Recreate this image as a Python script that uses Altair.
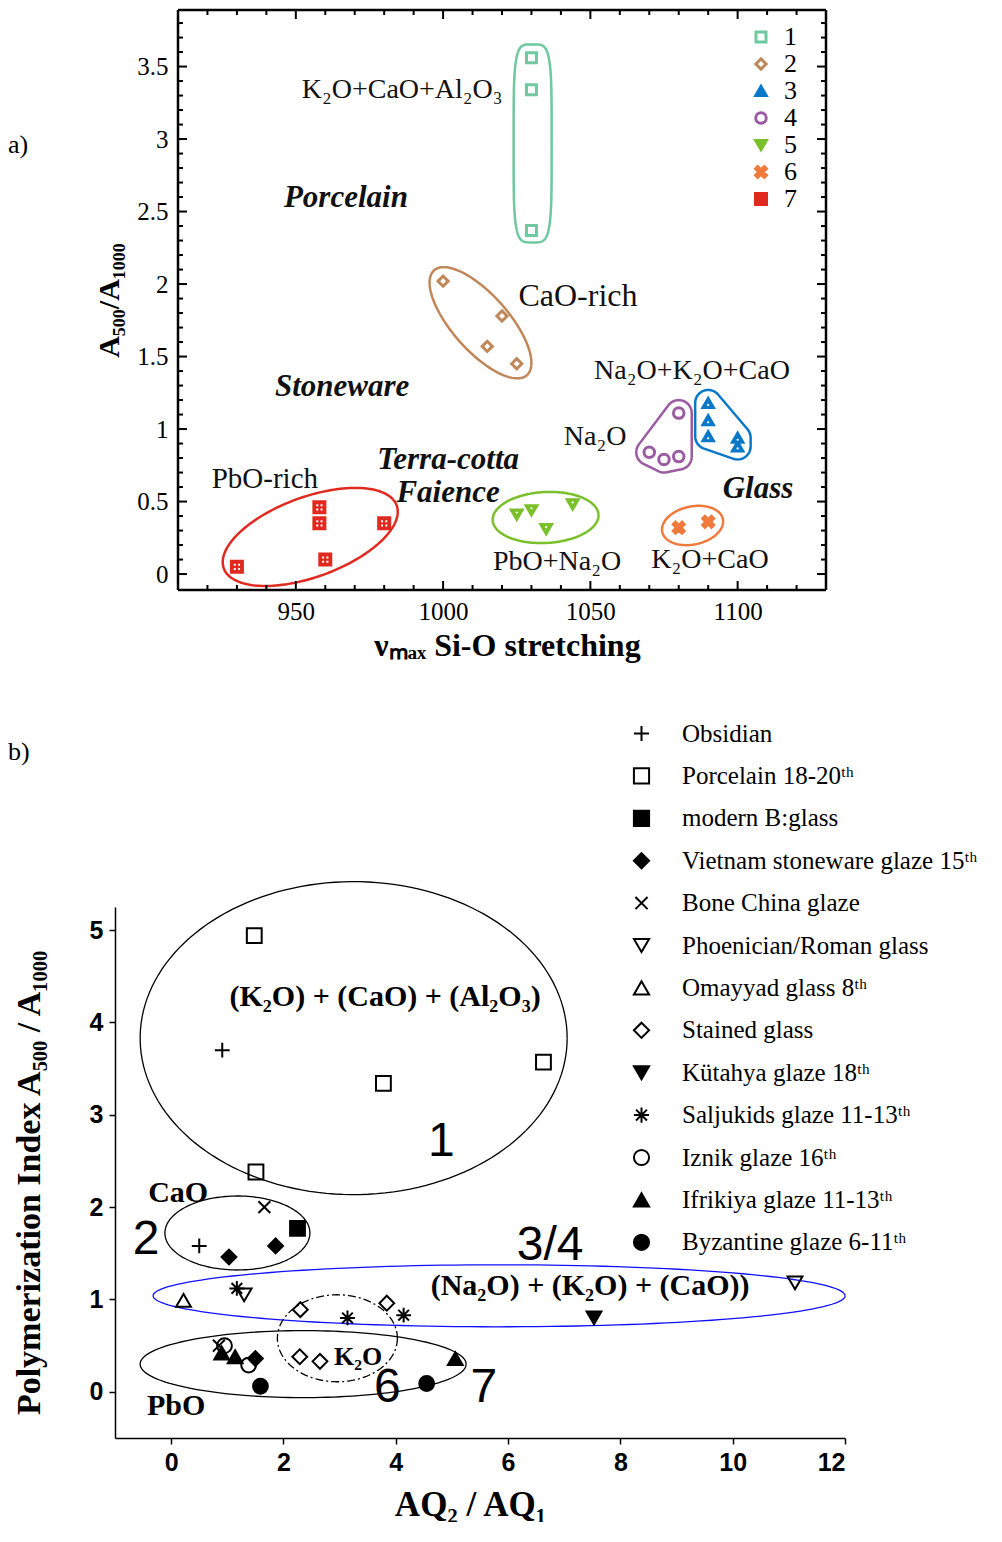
import altair as alt
import numpy as np
import pandas as pd

# ---------------- Panel a data ----------------
a_group = ["1", "1", "1",
           "2", "2", "2", "2",
           "3", "3", "3", "3", "3",
           "4", "4", "4", "4",
           "5", "5", "5", "5",
           "6", "6",
           "7", "7", "7", "7", "7"]
a_x = [1030, 1030, 1030,
       1000, 1020, 1015, 1025,
       1090, 1090, 1090, 1100, 1100,
       1080, 1070, 1075, 1080,
       1025, 1030, 1035, 1044,
       1080, 1090,
       930, 958, 958, 960, 980]
a_y = [3.56, 3.34, 2.37,
       2.02, 1.78, 1.57, 1.45,
       1.18, 1.06, 0.95, 0.94, 0.88,
       1.11, 0.84, 0.79, 0.81,
       0.41, 0.44, 0.31, 0.48,
       0.32, 0.36,
       0.05, 0.46, 0.35, 0.10, 0.35]
a_legend = ["1", "2", "3", "4", "5", "6", "7"]
a_colors = ["#6ec8a0", "#c0875a", "#0a78c8", "#9b5ba0", "#7ac02a", "#f07a3c", "#e02a20"]

a_x_ticks = [950, 1000, 1050, 1100]
a_y_ticks = [0, 0.5, 1, 1.5, 2, 2.5, 3, 3.5]

# ---------------- Panel b data ----------------
b_series = ["Obsidian", "Porcelain 18-20ᵗʰ", "modern B:glass",
            "Vietnam stoneware glaze 15ᵗʰ", "Bone China glaze",
            "Phoenician/Roman glass", "Omayyad glass 8ᵗʰ", "Stained glass",
            "Kütahya glaze 18ᵗʰ", "Saljukids glaze 11-13ᵗʰ", "Iznik glaze 16ᵗʰ",
            "Ifrikiya glaze 11-13ᵗʰ", "Byzantine glaze  6-11ᵗʰ"]
b_idx = [0, 0,
         1, 1, 1, 1,
         2,
         3, 3, 3,
         4, 4,
         5, 5,
         6,
         7, 7, 7, 7,
         8,
         9, 9, 9,
         10, 10,
         11, 11, 11,
         12, 12]
b_x = [0.91, 0.50,
       1.48, 3.78, 6.63, 1.51,
       2.25,
       1.03, 1.86, 1.50,
       1.66, 0.85,
       1.30, 11.11,
       0.22,
       2.30, 3.84, 2.29, 2.65,
       7.53,
       1.17, 3.14, 4.14,
       1.38, 0.95,
       0.90, 1.14, 5.06,
       1.59, 4.55]
b_y = [3.70, 1.58,
       4.94, 3.34, 3.57, 2.38,
       1.77,
       1.46, 1.58, 0.36,
       2.00, 0.50,
       1.05, 1.18,
       0.99,
       0.89, 0.96, 0.38, 0.33,
       0.80,
       1.12, 0.80, 0.83,
       0.29, 0.50,
       0.42, 0.38, 0.36,
       0.06, 0.09]
b_x_ticks = [0, 2, 4, 6, 8, 10, 12]
b_y_ticks = [0, 1, 2, 3, 4, 5]

# ---------------- geometry / layout ----------------
X0_A = 63                      # left inset of panel a's box inside its group
W_A, H_A = 648, 580            # panel a box
GW_A = X0_A + W_A              # panel a group width
XA, YA = [910, 1130], [-0.11, 3.89]
KXA, KYA = W_A / (XA[1] - XA[0]), H_A / (YA[1] - YA[0])
W_B, H_B = 730, 531
XB, YB = [-1, 12], [-0.5, 5.25]
KXB, KYB = W_B / (XB[1] - XB[0]), H_B / (YB[1] - YB[0])
LEFT_LAB = -107

SERIF = "Liberation Serif"
SANS = "Liberation Sans"


def ellipse(cx, cy, a_px, b_px, ang, kx, ky, n=2.0, npts=160):
    t = np.linspace(0, 2 * np.pi, npts)
    c, s = np.cos(t), np.sin(t)
    ex = a_px * np.sign(c) * np.abs(c) ** (2 / n)
    ey = b_px * np.sign(s) * np.abs(s) ** (2 / n)
    th = np.radians(ang)
    px = ex * np.cos(th) - ey * np.sin(th)
    py = ex * np.sin(th) + ey * np.cos(th)
    return cx + px / kx, cy - py / ky


def rounded_hull(xs, ys, r, kx, ky):
    pts = []
    for x, y in zip(xs, ys):
        for t in np.linspace(0, 2 * np.pi, 60, endpoint=False):
            pts.append((x * kx + r * np.cos(t), -y * ky + r * np.sin(t)))
    pts = sorted(set(pts))

    def cross(o, a, b):
        return (a[0] - o[0]) * (b[1] - o[1]) - (a[1] - o[1]) * (b[0] - o[0])
    lower, upper = [], []
    for p in pts:
        while len(lower) >= 2 and cross(lower[-2], lower[-1], p) <= 0:
            lower.pop()
        lower.append(p)
    for p in reversed(pts):
        while len(upper) >= 2 and cross(upper[-2], upper[-1], p) <= 0:
            upper.pop()
        upper.append(p)
    hull = lower[:-1] + upper[:-1]
    hull.append(hull[0])
    hx = np.array([p[0] for p in hull]) / kx
    hy = -np.array([p[1] for p in hull]) / ky
    return hx, hy


def outline_df(xs, ys, oid, color):
    return pd.DataFrame({"x": xs, "y": ys, "i": np.arange(len(xs)), "oid": oid, "col": color})


ONE = pd.DataFrame({"k": [0]})

# ---------------- Panel a ----------------
df_a = pd.DataFrame({"x": a_x, "y": a_y, "group": a_group})

out_parts = []
gx = lambda g: [x for x, gg in zip(a_x, a_group) if gg == g]
gy = lambda g: [y for y, gg in zip(a_y, a_group) if gg == g]
ex, ey = ellipse(1030.4, 2.97, 19, 99, 0, KXA, KYA, n=4.5)
out_parts.append(outline_df(ex, ey, "1", a_colors[0]))
ex, ey = ellipse(1012.7, 1.733, 70, 28, 48.5, KXA, KYA)
out_parts.append(outline_df(ex, ey, "2", a_colors[1]))
ex, ey = rounded_hull(gx("3"), gy("3"), 13, KXA, KYA)
out_parts.append(outline_df(ex, ey, "3", a_colors[2]))
ex, ey = rounded_hull(gx("4"), gy("4"), 13, KXA, KYA)
out_parts.append(outline_df(ex, ey, "4", a_colors[3]))
ex, ey = ellipse(1034.8, 0.39, 53, 25.5, -3, KXA, KYA)
out_parts.append(outline_df(ex, ey, "5", a_colors[4]))
ex, ey = ellipse(1084.7, 0.335, 31, 19, -12, KXA, KYA)
out_parts.append(outline_df(ex, ey, "6", a_colors[5]))
ex, ey = ellipse(954.9, 0.256, 92, 40, -20, KXA, KYA)
out_parts.append(outline_df(ex, ey, "7", a_colors[6]))
df_out_a = pd.concat(out_parts, ignore_index=True)

AXA_X = alt.Axis(values=a_x_ticks, format="d", title="νₘₐₓ Si-O stretching",
                 tickSize=0, domain=False, grid=False,
                 labelFont=SERIF, labelFontSize=25, labelColor="black", labelPadding=9,
                 titleFont=SERIF, titleFontSize=32, titleFontWeight="bold",
                 titleColor="black", titlePadding=6, titleX=X0_A + W_A / 2 + 5)
AXA_Y = alt.Axis(values=a_y_ticks, format="~g", title="A₅₀₀/A₁₀₀₀",
                 tickSize=0, domain=False, grid=False, offset=-X0_A,
                 labelFont=SERIF, labelFontSize=25, labelColor="black", labelPadding=10,
                 titleFont=SERIF, titleFontSize=30, titleFontWeight="bold",
                 titleColor="black", titlePadding=12)
SXA = alt.Scale(domain=XA, range=[X0_A, GW_A], nice=False, zero=False)
SYA = alt.Scale(domain=YA, nice=False, zero=False)
XA_ENC = alt.X("x:Q", scale=SXA, axis=AXA_X)
YA_ENC = alt.Y("y:Q", scale=SYA, axis=AXA_Y)

outlines_a = alt.Chart(df_out_a).mark_line(strokeWidth=2.5).encode(
    x=XA_ENC, y=YA_ENC, detail="oid:N", order="i:Q",
    stroke=alt.Stroke("col:N", scale=None))

leg_a = alt.Legend(orient="none", legendX=633, legendY=14, title=None,
                   labelFont=SERIF, labelFontSize=26, labelColor="black",
                   labelOffset=10, rowPadding=1, symbolSize=120,
                   symbolStrokeWidth=3, padding=0)
shape_a = ["square", "diamond", "triangle-up", "circle", "triangle-down",
           "M-1,-0.6L-0.6,-1L0,-0.4L0.6,-1L1,-0.6L0.4,0L1,0.6L0.6,1L0,0.4L-0.6,1L-1,0.6L-0.4,0Z",
           "square"]
fill_a = ["white", "white", a_colors[2], "white", a_colors[4], a_colors[5], a_colors[6]]
size_a = [100, 121, 150, 100, 150, 125, 130]

points_a = alt.Chart(df_a).mark_point(strokeWidth=3, opacity=1).encode(
    x=XA_ENC, y=YA_ENC,
    shape=alt.Shape("group:N", scale=alt.Scale(domain=a_legend, range=shape_a), legend=leg_a),
    fill=alt.Fill("group:N", scale=alt.Scale(domain=a_legend, range=fill_a), legend=leg_a),
    stroke=alt.Stroke("group:N", scale=alt.Scale(domain=a_legend, range=a_colors), legend=leg_a),
    size=alt.Size("group:N", scale=alt.Scale(domain=a_legend, range=size_a), legend=None),
)

df_a3 = df_a[df_a.group.isin(["3"])]
df_a5 = df_a[df_a.group.isin(["5"])]
df_a7 = df_a[df_a.group.isin(["7"])]
dot3 = alt.Chart(df_a3).mark_point(shape="circle", size=5, filled=True, color="white",
                                   opacity=1, yOffset=2).encode(x=XA_ENC, y=YA_ENC)
dot5 = alt.Chart(df_a5).mark_point(shape="circle", size=5, filled=True, color="white",
                                   opacity=1, yOffset=-2).encode(x=XA_ENC, y=YA_ENC)
dot7 = alt.Chart(df_a7).mark_point(
    shape="M-0.55,-0.55h0.35v0.35h-0.35z M0.2,-0.55h0.35v0.35h-0.35z M-0.55,0.2h0.35v0.35h-0.35z M0.2,0.2h0.35v0.35h-0.35z",
    size=130, filled=True, color="white", opacity=1).encode(x=XA_ENC, y=YA_ENC)

# box frame of panel a
frame_a = [
    alt.Chart(ONE).mark_rule(strokeWidth=2.5, color="black").encode(
        x=alt.value(X0_A), x2=alt.value(GW_A), y=alt.value(0)),
    alt.Chart(ONE).mark_rule(strokeWidth=2.5, color="black").encode(
        x=alt.value(X0_A), x2=alt.value(GW_A), y=alt.value(H_A)),
    alt.Chart(ONE).mark_rule(strokeWidth=2.5, color="black").encode(
        x=alt.value(X0_A), y=alt.value(0), y2=alt.value(H_A)),
    alt.Chart(ONE).mark_rule(strokeWidth=2.5, color="black").encode(
        x=alt.value(GW_A), y=alt.value(0), y2=alt.value(H_A)),
]

# inward ticks for the boxed frame of panel a
x_minor = [v for v in range(920, 1130, 10) if v % 50]
y_minor = [round(v * 0.1, 1) for v in range(0, 39) if v % 5]
df_xmaj = pd.DataFrame({"x": a_x_ticks})
df_xmin = pd.DataFrame({"x": x_minor})
df_ymaj = pd.DataFrame({"y": a_y_ticks})
df_ymin = pd.DataFrame({"y": y_minor})
tick_layers = []
for dfx, ln in [(df_xmaj, 9), (df_xmin, 5)]:
    tick_layers.append(alt.Chart(dfx).mark_rule(strokeWidth=2, color="black").encode(
        x=XA_ENC, y=alt.value(H_A), y2=alt.value(H_A - ln)))
    tick_layers.append(alt.Chart(dfx).mark_rule(strokeWidth=2, color="black").encode(
        x=XA_ENC, y=alt.value(0), y2=alt.value(ln)))
for dfy, ln in [(df_ymaj, 9), (df_ymin, 5)]:
    tick_layers.append(alt.Chart(dfy).mark_rule(strokeWidth=2, color="black").encode(
        y=YA_ENC, x=alt.value(X0_A), x2=alt.value(X0_A + ln)))
    tick_layers.append(alt.Chart(dfy).mark_rule(strokeWidth=2, color="black").encode(
        y=YA_ENC, x=alt.value(GW_A), x2=alt.value(GW_A - ln)))

ann_a_plain = pd.DataFrame({
    "x": [986.1, 1045.8, 1084.5, 1051.6, 939.5, 1038.7, 1090.6],
    "y": [3.34, 1.917, 1.40, 0.945, 0.655, 0.083, 0.097],
    "t": ["K₂O+CaO+Al₂O₃", "CaO-rich", "Na₂O+K₂O+CaO", "Na₂O", "PbO-rich", "PbO+Na₂O", "K₂O+CaO"],
    "fs": [28, 32, 28, 28, 29, 28, 28],
})
ann_a_bold = pd.DataFrame({
    "x": [967.0, 965.7, 1001.7, 1001.7, 1106.9],
    "y": [2.593, 1.29, 0.785, 0.56, 0.586],
    "t": ["Porcelain", "Stoneware", "Terra-cotta", "Faience", "Glass"],
})
txt_a1 = alt.Chart(ann_a_plain).mark_text(font=SERIF, color="#111", baseline="middle").encode(
    x=XA_ENC, y=YA_ENC, text="t:N", size=alt.Size("fs:Q", scale=None))
txt_a2 = alt.Chart(ann_a_bold).mark_text(font=SERIF, fontSize=31, fontWeight="bold",
                                         fontStyle="italic", color="#111", baseline="middle").encode(
    x=XA_ENC, y=YA_ENC, text="t:N")
lab_a = alt.Chart(pd.DataFrame({"t": ["a)"]})).mark_text(
    font=SERIF, fontSize=26, align="left", baseline="middle", color="black").encode(
    x=alt.value(LEFT_LAB), y=alt.value(135), text="t:N")

panel_a = alt.layer(outlines_a, *frame_a, *tick_layers, points_a, dot3, dot5, dot7,
                    txt_a1, txt_a2, lab_a).properties(width=GW_A, height=H_A)

# ---------------- Panel b ----------------
df_b = pd.DataFrame({"x": b_x, "y": b_y, "series": [b_series[i] for i in b_idx]})

ob = []
ex, ey = ellipse(3.25, 3.83, 213.5, 156.5, 0, KXB, KYB)
ob.append(outline_df(ex, ey, "e1", "black"))
ex, ey = ellipse(1.18, 1.72, 72.5, 37, 0, KXB, KYB)
ob.append(outline_df(ex, ey, "e2", "black"))
ex, ey = ellipse(5.84, 1.04, 346, 31, 0, KXB, KYB)
ob.append(outline_df(ex, ey, "e34", "#1010ff"))
ex, ey = ellipse(2.35, 0.30, 163, 33.5, 0, KXB, KYB)
ob.append(outline_df(ex, ey, "e7", "black"))
df_ob = pd.concat(ob, ignore_index=True)
ex, ey = ellipse(2.96, 0.58, 60, 43.5, 0, KXB, KYB)
df_e6 = outline_df(ex, ey, "e6", "black")

AXB_X = alt.Axis(values=b_x_ticks, format="d", title="AQ₂ / AQ₁", grid=False,
                 tickSize=6, tickColor="black", tickWidth=1.5,
                 domainColor="black", domainWidth=1.5,
                 labelFont=SANS, labelFontSize=25, labelFontWeight="bold",
                 labelColor="black", labelPadding=6,
                 titleFont=SERIF, titleFontSize=35, titleFontWeight="bold",
                 titleColor="black", titlePadding=12, titleX=W_B / 2 - 10)
AXB_Y = alt.Axis(values=b_y_ticks, format="d", title="Polymerization  Index A₅₀₀ / A₁₀₀₀",
                 grid=False, tickSize=6, tickColor="black", tickWidth=1.5,
                 domainColor="black", domainWidth=1.5,
                 labelFont=SANS, labelFontSize=25, labelFontWeight="bold",
                 labelColor="black", labelPadding=6,
                 titleFont=SERIF, titleFontSize=34, titleFontWeight="bold",
                 titleColor="black", titlePadding=43, titleY=H_B / 2 + 10)
SXB = alt.Scale(domain=XB, nice=False, zero=False)
SYB = alt.Scale(domain=YB, nice=False, zero=False)
XB_ENC = alt.X("x:Q", scale=SXB, axis=AXB_X)
YB_ENC = alt.Y("y:Q", scale=SYB, axis=AXB_Y)

ell_b = alt.Chart(df_ob).mark_line(strokeWidth=1.3).encode(
    x=XB_ENC, y=YB_ENC, detail="oid:N", order="i:Q",
    stroke=alt.Stroke("col:N", scale=None))
ell_b6 = alt.Chart(df_e6).mark_line(strokeWidth=1.3, strokeDash=[8, 3, 2, 3], color="black").encode(
    x=XB_ENC, y=YB_ENC, order="i:Q")

PLUS = "M-1,0L1,0M0,-1L0,1"
XSH = "M-0.8,-0.8L0.8,0.8M-0.8,0.8L0.8,-0.8"
STAR = "M-1,0L1,0M0,-1L0,1M-0.72,-0.72L0.72,0.72M-0.72,0.72L0.72,-0.72"
shape_b = [PLUS, "square", "square", "diamond", XSH, "triangle-down", "triangle-up",
           "diamond", "triangle-down", STAR, "circle", "triangle-up", "circle"]
fill_b = ["transparent", "transparent", "black", "black", "transparent", "transparent",
          "transparent", "transparent", "black", "transparent", "transparent", "black", "black"]
stroke_b = ["black"] * len(b_series)

leg_b = alt.Legend(orient="none", legendX=514, legendY=-186, title=None,
                   labelFont=SERIF, labelFontSize=25, labelColor="black",
                   labelOffset=28, rowPadding=16.4, symbolSize=230,
                   symbolStrokeWidth=2, padding=0, labelLimit=400)
points_b = alt.Chart(df_b).mark_point(size=220, strokeWidth=2, opacity=1).encode(
    x=XB_ENC, y=YB_ENC,
    shape=alt.Shape("series:N", scale=alt.Scale(domain=b_series, range=shape_b), legend=leg_b),
    fill=alt.Fill("series:N", scale=alt.Scale(domain=b_series, range=fill_b), legend=leg_b),
    stroke=alt.Stroke("series:N", scale=alt.Scale(domain=b_series, range=stroke_b), legend=leg_b),
)

ann_b_bold = pd.DataFrame({
    "x": [3.81, 0.125, 7.46, 3.33, 0.089],
    "y": [4.277, 2.155, 1.148, 0.379, -0.152],
    "t": ["(K₂O) + (CaO) + (Al₂O₃)", "CaO", "(Na₂O) + (K₂O) + (CaO))", "K₂O", "PbO"],
    "fs": [30, 30, 30, 26, 30],
})
ann_b_num = pd.DataFrame({
    "x": [4.81, -0.445, 6.75, 3.85, 5.57],
    "y": [2.707, 1.646, 1.575, 0.043, 0.043],
    "t": ["1", "2", "3/4", "6", "7"],
})
txt_b1 = alt.Chart(ann_b_bold).mark_text(font=SERIF, fontWeight="bold", color="black",
                                         baseline="middle").encode(
    x=XB_ENC, y=YB_ENC, text="t:N", size=alt.Size("fs:Q", scale=None))
txt_b2 = alt.Chart(ann_b_num).mark_text(font=SANS, fontSize=48, color="black",
                                        baseline="middle").encode(
    x=XB_ENC, y=YB_ENC, text="t:N")
lab_b = alt.Chart(pd.DataFrame({"t": ["b)"]})).mark_text(
    font=SERIF, fontSize=26, align="left", baseline="middle", color="black").encode(
    x=alt.value(LEFT_LAB), y=alt.value(-155), text="t:N")

panel_b = alt.layer(ell_b, ell_b6, points_b, txt_b1, txt_b2, lab_b).properties(
    width=W_B, height=H_B)

chart = alt.vconcat(panel_a, panel_b, spacing=60).resolve_scale(
    fill="independent", stroke="independent", shape="independent", size="independent"
).properties(
    padding={"left": 0, "top": 0, "right": 0, "bottom": 0},
    background="white",
).configure_view(strokeWidth=0, stroke="transparent")

chart.save("out.html", embed_options={"renderer": "svg", "actions": False})
